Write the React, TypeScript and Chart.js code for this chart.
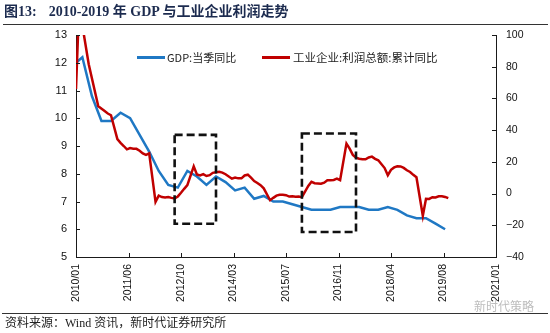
import React, { useEffect, useRef } from "react";
import { Chart, registerables } from "chart.js";

Chart.register(...registerables);

// ---------- data ----------
const xStart = "2010-01";
const xEnd = "2021-01";
const xTickLabels = ["2010/01", "2011/06", "2012/10", "2014/03", "2015/07", "2016/11", "2018/04", "2019/08", "2021/01"];

const leftMin = 5;
const leftMax = 13;
const rightMin = -40;
const rightMax = 100;

const gdpLabel = "GDP:当季同比";
const gdpDates = [
  "2010-01", "2010-03", "2010-06", "2010-09", "2010-12",
  "2011-03", "2011-06", "2011-09", "2011-12",
  "2012-03", "2012-06", "2012-09", "2012-12",
  "2013-03", "2013-06", "2013-09", "2013-12",
  "2014-03", "2014-06", "2014-09", "2014-12",
  "2015-03", "2015-06", "2015-09", "2015-12",
  "2016-03", "2016-06", "2016-09", "2016-12",
  "2017-03", "2017-06", "2017-09", "2017-12",
  "2018-03", "2018-06", "2018-09", "2018-12",
  "2019-03", "2019-06", "2019-09",
];
const gdpValues = [
  12.0, 12.2, 10.8, 9.9, 9.9,
  10.2, 10.0, 9.4, 8.8,
  8.1, 7.6, 7.5, 8.1,
  7.9, 7.6, 7.9, 7.7,
  7.4, 7.5, 7.1, 7.2,
  7.0, 7.0, 6.9, 6.8,
  6.7, 6.7, 6.7, 6.8,
  6.8, 6.8, 6.7, 6.7,
  6.8, 6.7, 6.5, 6.4,
  6.4, 6.2, 6.0,
];

const profitLabel = "工业企业:利润总额:累计同比";
const profitDates2010 = ["2010-01", "2010-02", "2010-03", "2010-05", "2010-08", "2010-10", "2010-11", "2010-12"];
const profit2010 = [66, 119.7, 106, 81.6, 55.0, 52.0, 50.5, 49.4];
const profitMonths = ["02", "03", "04", "05", "06", "07", "08", "09", "10", "11", "12"];
const profit2011 = [34.3, 32.0, 30.0, 27.9, 28.7, 28.3, 28.2, 27.0, 25.3, 24.4, 25.4];
const profit2012 = [-5.2, -1.3, -2.2, -2.4, -2.2, -2.7, -3.1, -1.8, 0.5, 3.0, 5.3];
const profit2013 = [17.2, 12.1, 11.4, 12.3, 11.1, 11.6, 13.1, 13.5, 13.7, 13.2, 12.2];
const profit2014 = [9.4, 10.1, 9.6, 9.6, 11.4, 11.9, 10.0, 7.9, 6.7, 5.3, 3.3];
const profit2015 = [-4.2, -2.7, -1.3, -0.8, -0.7, -1.0, -1.9, -1.7, -2.0, -1.9, -2.3];
const profit2016 = [4.8, 7.4, 6.5, 6.4, 6.2, 6.9, 8.4, 8.4, 8.6, 9.4, 8.5];
const profit2017 = [31.5, 28.3, 24.4, 22.7, 22.0, 21.6, 21.6, 22.8, 23.3, 21.9, 21.0];
const profit2018 = [16.1, 11.6, 15.0, 16.5, 17.2, 17.1, 16.2, 14.7, 13.6, 11.8, 10.3];
const profit2019 = [-14.0, -3.3, -3.4, -2.3, -2.4, -1.7, -1.7, -2.1, -2.9];

// dashed highlight boxes (date range on x, left-axis values on y)
const highlightBoxes = [
  { from: "2012-08", to: "2013-09", top: 9.4, bottom: 6.2 },
  { from: "2015-12", to: "2017-05", top: 9.45, bottom: 5.9 },
];

// ---------- styles ----------
const BLUE = "#1f78c4";
const RED = "#c00000";
const AXIS = "#1a1a1a";
const TICK_FONT = "'Liberation Sans', Arial, sans-serif";
const CJK_FONT = "'Noto Sans CJK SC', 'Noto Sans', sans-serif";

function monthIndex(d: string): number {
  const [y, m] = d.split("-").map(Number);
  const [y0, m0] = xStart.split("-").map(Number);
  return (y - y0) * 12 + (m - m0);
}

function buildProfitPoints() {
  const pts: { x: number; y: number }[] = [];
  profitDates2010.forEach((d, i) => pts.push({ x: monthIndex(d), y: profit2010[i] }));
  const years: [number, number[]][] = [
    [2011, profit2011], [2012, profit2012], [2013, profit2013], [2014, profit2014],
    [2015, profit2015], [2016, profit2016], [2017, profit2017], [2018, profit2018], [2019, profit2019],
  ];
  years.forEach(([yr, vals]) => {
    vals.forEach((v, i) => pts.push({ x: monthIndex(`${yr}-${profitMonths[i]}`), y: v }));
  });
  return pts;
}

const innerTicksPlugin = {
  id: "innerTicks",
  afterDatasetsDraw(chart: any) {
    const { ctx, chartArea: a, scales } = chart;
    ctx.save();
    ctx.strokeStyle = AXIS;
    ctx.lineWidth = 1;
    ctx.beginPath();
    scales.x.ticks.forEach((t: any) => {
      const px = Math.round(scales.x.getPixelForValue(t.value)) + 0.5;
      ctx.moveTo(px, a.bottom);
      ctx.lineTo(px, a.bottom - 4);
    });
    scales.yL.ticks.forEach((t: any) => {
      const py = Math.round(scales.yL.getPixelForValue(t.value)) + 0.5;
      ctx.moveTo(a.left, py);
      ctx.lineTo(a.left + 4, py);
    });
    scales.yR.ticks.forEach((t: any) => {
      const py = Math.round(scales.yR.getPixelForValue(t.value)) + 0.5;
      ctx.moveTo(a.right, py);
      ctx.lineTo(a.right - 4, py);
    });
    ctx.stroke();
    ctx.restore();
  },
};

const boxesPlugin = {
  id: "highlightBoxes",
  afterDatasetsDraw(chart: any) {
    const { ctx, scales } = chart;
    ctx.save();
    ctx.strokeStyle = "#111";
    ctx.lineWidth = 2.6;
    ctx.setLineDash([8, 4]);
    highlightBoxes.forEach((b) => {
      const x1 = scales.x.getPixelForValue(monthIndex(b.from));
      const x2 = scales.x.getPixelForValue(monthIndex(b.to));
      const y1 = scales.yL.getPixelForValue(b.top);
      const y2 = scales.yL.getPixelForValue(b.bottom);
      ctx.strokeRect(x1, y1, x2 - x1, y2 - y1);
    });
    ctx.restore();
  },
};

export default function App() {
  const canvasRef = useRef<HTMLCanvasElement | null>(null);

  useEffect(() => {
    document.body.style.margin = "0";
    const canvas = canvasRef.current;
    if (!canvas) return;
    const span = monthIndex(xEnd);
    const gdpPoints = gdpDates.map((d, i) => ({ x: monthIndex(d), y: gdpValues[i] }));
    const profitPoints = buildProfitPoints();

    const chart = new Chart(canvas, {
      type: "line",
      data: {
        datasets: [
          {
            label: gdpLabel,
            data: gdpPoints,
            yAxisID: "yL",
            borderColor: BLUE,
            backgroundColor: BLUE,
            borderWidth: 2.5,
            pointRadius: 0,
            tension: 0,
            order: 1,
            clip: 0,
          } as any,
          {
            label: profitLabel,
            data: profitPoints,
            yAxisID: "yR",
            borderColor: RED,
            backgroundColor: RED,
            borderWidth: 2.5,
            pointRadius: 0,
            tension: 0,
            order: 0,
            clip: 0,
          } as any,
        ],
      },
      options: {
        animation: false,
        responsive: false,
        devicePixelRatio: 1,
        parsing: false,
        layout: { padding: { top: 35, left: 0, right: 0, bottom: 0 } },
        plugins: {
          legend: { display: false },
          tooltip: { enabled: false },
        },
        scales: {
          x: {
            type: "linear",
            position: "bottom",
            min: 0,
            max: span,
            grid: { display: false, drawTicks: false },
            border: { display: true, color: AXIS, width: 1 },
            afterBuildTicks: (axis: any) => {
              const n = xTickLabels.length;
              axis.ticks = xTickLabels.map((_, i) => ({ value: (i * span) / (n - 1) }));
            },
            afterFit: (s: any) => {
              s.height = 76;
            },
            ticks: {
              autoSkip: false,
              maxRotation: 90,
              minRotation: 90,
              padding: 7,
              color: "#111",
              font: { family: TICK_FONT, size: 10.5 },
              callback: (_v: any, i: number) => xTickLabels[i],
            },
          },
          yL: {
            type: "linear",
            position: "left",
            min: leftMin,
            max: leftMax,
            grid: { display: false, drawTicks: false },
            border: { display: true, color: AXIS, width: 1 },
            afterFit: (s: any) => {
              s.width = 76;
            },
            ticks: {
              stepSize: 1,
              padding: 9,
              color: "#111",
              font: { family: TICK_FONT, size: 11 },
            },
          },
          yR: {
            type: "linear",
            position: "right",
            min: rightMin,
            max: rightMax,
            grid: { display: false, drawTicks: false },
            border: { display: true, color: AXIS, width: 1 },
            afterFit: (s: any) => {
              s.width = 54;
            },
            ticks: {
              stepSize: 20,
              padding: 10,
              color: "#111",
              font: { family: TICK_FONT, size: 10.5 },
              callback: (v: any) => (Number(v) < 0 ? "\u2212" + Math.abs(Number(v)) : String(v)),
            },
          },
        },
      } as any,
      plugins: [boxesPlugin, innerTicksPlugin],
    });
    return () => chart.destroy();
  }, []);

  return (
    <div style={{ position: "relative", width: 550, height: 333, background: "#fff", overflow: "hidden" }}>
      <canvas ref={canvasRef} width={550} height={333} style={{ position: "absolute", left: 0, top: 0 }} />
      {/* title */}
      <div
        style={{
          position: "absolute",
          left: 4,
          top: 3,
          whiteSpace: "nowrap",
          fontFamily: "'Liberation Serif', 'Noto Sans CJK SC', serif",
          fontWeight: 700,
          fontSize: 14,
          lineHeight: "18px",
          color: "#1c2b4f",
        }}
      >
        <span>图13:</span>
        <span style={{ marginLeft: 12 }}>2010-2019 年 GDP 与工业企业利润走势</span>
      </div>
      <div style={{ position: "absolute", left: 3, width: 545, top: 24, height: 1, background: "#333" }} />
      {/* legend */}
      <div style={{ position: "absolute", left: 137, top: 56, width: 28, height: 2.5, background: BLUE }} />
      <div
        style={{
          position: "absolute",
          left: 167,
          top: 50,
          whiteSpace: "nowrap",
          fontFamily: CJK_FONT,
          fontSize: 11,
          lineHeight: "14px",
          color: "#222",
        }}
      >
        {gdpLabel}
      </div>
      <div style={{ position: "absolute", left: 262, top: 56, width: 28, height: 2.5, background: RED }} />
      <div
        style={{
          position: "absolute",
          left: 293,
          top: 50,
          whiteSpace: "nowrap",
          fontFamily: CJK_FONT,
          fontSize: 11.5,
          lineHeight: "14px",
          color: "#222",
        }}
      >
        {profitLabel}
      </div>
      {/* footer */}
      <div style={{ position: "absolute", left: 2, width: 546, top: 313, height: 1, background: "#333" }} />
      <div
        style={{
          position: "absolute",
          left: 5,
          top: 316,
          whiteSpace: "nowrap",
          fontFamily: "'Liberation Serif', 'Noto Sans CJK SC', serif",
          fontSize: 12,
          lineHeight: "15px",
          color: "#222",
        }}
      >
        资料来源：Wind 资讯，新时代证券研究所
      </div>
      <div
        style={{
          position: "absolute",
          left: 474,
          top: 299,
          whiteSpace: "nowrap",
          fontFamily: CJK_FONT,
          fontSize: 12,
          lineHeight: "14px",
          color: "#bdbdbd",
        }}
      >
        新时代策略
      </div>
    </div>
  );
}
